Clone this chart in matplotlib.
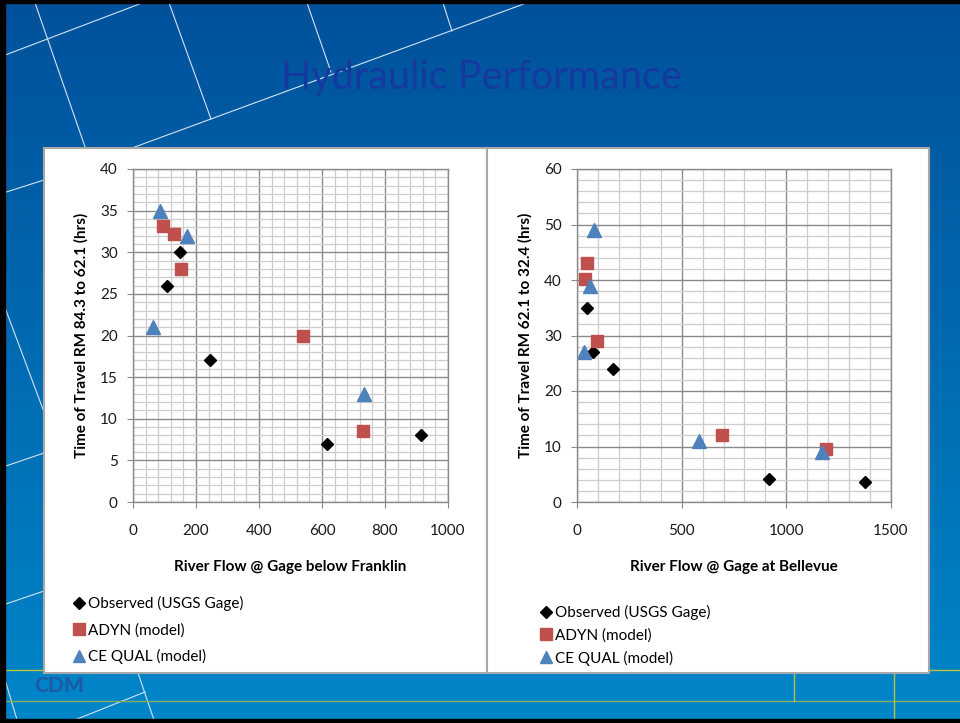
import matplotlib
matplotlib.use("Agg")
import matplotlib.pyplot as plt
import numpy as np
from matplotlib.colors import LinearSegmentedColormap
from matplotlib.patches import Rectangle
from matplotlib.ticker import MultipleLocator

W, H = 960, 723

plt.rcParams["font.family"] = ["Lato", "DejaVu Sans"]

# Franklin reach: flow vs. time of travel RM 84.3 -> 62.1
frk_obs_x = [108, 150, 243, 615, 915]
frk_obs_y = [26, 30, 17, 7, 8]
frk_adyn_x = [95, 129, 151, 540, 730]
frk_adyn_y = [33.1, 32.2, 28, 20, 8.5]
frk_ceq_x = [63, 87, 172, 733]
frk_ceq_y = [21, 35, 32, 13]

# Bellevue reach: flow vs. time of travel RM 62.1 -> 32.4
bel_obs_x = [48, 75, 172, 916, 1377]
bel_obs_y = [35, 27, 24, 4.2, 3.6]
bel_adyn_x = [40, 48, 95, 692, 1190]
bel_adyn_y = [40.2, 43, 29, 12, 9.5]
bel_ceq_x = [32, 64, 80, 585, 1172]
bel_ceq_y = [27, 39, 49, 11, 9]

series_labels = ["Observed (USGS Gage)", "ADYN (model)", "CE QUAL (model)"]

MAJOR = "#8a8a8a"
MINOR = "#cdcdcd"


def px_axes(fig, x0, y0, x1, y1):
    return fig.add_axes([x0 / W, 1 - y1 / H, (x1 - x0) / W, (y1 - y0) / H])


fig = plt.figure(figsize=(W / 100, H / 100), dpi=100)

# slide background in pixel coordinates
bg = fig.add_axes([0, 0, 1, 1])
grad = np.linspace(0, 1, 256)[:, None]
cmap = LinearSegmentedColormap.from_list("slide", ["#00519b", "#0086ca"])
bg.imshow(grad, extent=[0, W, H, 0], aspect="auto", cmap=cmap, zorder=0)
bg.set_xlim(0, W)
bg.set_ylim(H, 0)
bg.axis("off")

deco = [
    ((34, 0), (100, 190)), ((168, 0), (211, 119)), ((306, 0), (331, 72)),
    ((442, 0), (452, 31)), ((132, 148), (540, -2)), ((0, 57), (150, 0)),
    ((0, 194), (44, 180)), ((4, 305), (44, 412)), ((0, 468), (44, 453)),
    ((0, 606), (44, 591)), ((6, 683), (18, 723)), ((138, 673), (155, 723)),
    ((67, 723), (145, 692)),
]
for (xa, ya), (xb, yb) in deco:
    bg.plot([xa, xb], [ya, yb], color="#d4e2f0", lw=0.8, zorder=1)

bg.plot([0, 44], [670, 670], color="#b9c23c", lw=1, zorder=1)
bg.plot([929, W], [670, 670], color="#b9c23c", lw=1, zorder=1)
bg.plot([0, W], [701, 701], color="#86ad5e", lw=1, zorder=1)
bg.plot([794, 794], [673, 701], color="#b9c23c", lw=1, zorder=1)
bg.plot([894, 894], [670, 723], color="#b9c23c", lw=1, zorder=1)

# black frame
bg.add_patch(Rectangle((0, 0), W, 3, color="black", zorder=5))
bg.add_patch(Rectangle((0, 0), 5, H, color="black", zorder=5))
bg.add_patch(Rectangle((0, 719), W, 4, color="black", zorder=5))

bg.text(481, 78, "Hydraulic Performance", ha="center", va="center",
        fontsize=28.5, color="#143aa0", zorder=2)
bg.text(34, 686, "CDM", ha="left", va="center", fontsize=15, fontweight="black",
        color="#1d5ca4", zorder=2)

# white chart panels
bg.add_patch(Rectangle((44, 148), 443, 525, facecolor="white",
                       edgecolor="#a8a8a8", lw=1.5, zorder=3))
bg.add_patch(Rectangle((487, 148), 442, 525, facecolor="white",
                       edgecolor="#a8a8a8", lw=1.5, zorder=3))


def style_axes(ax, xmax, xmaj, xmin, ymax, ymaj, ymin, xlabel, ylabel):
    ax.set_xlim(0, xmax)
    ax.set_ylim(0, ymax)
    ax.xaxis.set_major_locator(MultipleLocator(xmaj))
    ax.xaxis.set_minor_locator(MultipleLocator(xmin))
    ax.yaxis.set_major_locator(MultipleLocator(ymaj))
    ax.yaxis.set_minor_locator(MultipleLocator(ymin))
    ax.grid(which="major", color=MAJOR, lw=1.0)
    ax.grid(which="minor", color=MINOR, lw=0.9)
    ax.set_axisbelow(True)
    for s in ax.spines.values():
        s.set_color(MAJOR)
        s.set_linewidth(1.0)
    ax.tick_params(which="major", length=4, color=MAJOR, labelsize=11,
                   labelcolor="#1a1a1a")
    ax.tick_params(axis="x", which="major", pad=12)
    ax.tick_params(axis="y", which="major", pad=7)
    ax.tick_params(which="minor", length=0)
    ax.set_xlabel(xlabel, fontsize=11, fontweight="bold", labelpad=16)
    ax.set_ylabel(ylabel, fontsize=11, fontweight="bold", labelpad=8)


def draw_series(ax, obs, adyn, ceq):
    h1, = ax.plot(*obs, ls="none", marker="D", ms=6.5, color="black",
                  label=series_labels[0])
    h2, = ax.plot(*adyn, ls="none", marker="s", ms=9, color="#c0504d",
                  label=series_labels[1])
    h3, = ax.plot(*ceq, ls="none", marker="^", ms=10, color="#4f81bd",
                  label=series_labels[2])
    return [h1, h2, h3]


ax1 = px_axes(fig, 133, 169, 448, 502)
style_axes(ax1, 1000, 200, 40, 40, 5, 1,
           "River Flow @ Gage below Franklin",
           "Time of Travel RM 84.3 to 62.1 (hrs)")
hd1 = draw_series(ax1, (frk_obs_x, frk_obs_y), (frk_adyn_x, frk_adyn_y),
                  (frk_ceq_x, frk_ceq_y))

ax2 = px_axes(fig, 577, 169, 891, 502)
style_axes(ax2, 1500, 500, 100, 60, 10, 2,
           "River Flow @ Gage at Bellevue",
           "Time of Travel RM 62.1 to 32.4 (hrs)")
hd2 = draw_series(ax2, (bel_obs_x, bel_obs_y), (bel_adyn_x, bel_adyn_y),
                  (bel_ceq_x, bel_ceq_y))

legend_kw = dict(loc="upper left", frameon=False, fontsize=11,
                 handlelength=0.7, handletextpad=0.2, borderpad=0,
                 borderaxespad=0, markerscale=0.9)
fig.legend(handles=hd1, bbox_to_anchor=(74 / W, 1 - 596 / H),
           labelspacing=0.78, **legend_kw)
fig.legend(handles=hd2, bbox_to_anchor=(541 / W, 1 - 605 / H),
           labelspacing=0.53, **legend_kw)

fig.savefig("out.png", dpi=100)
